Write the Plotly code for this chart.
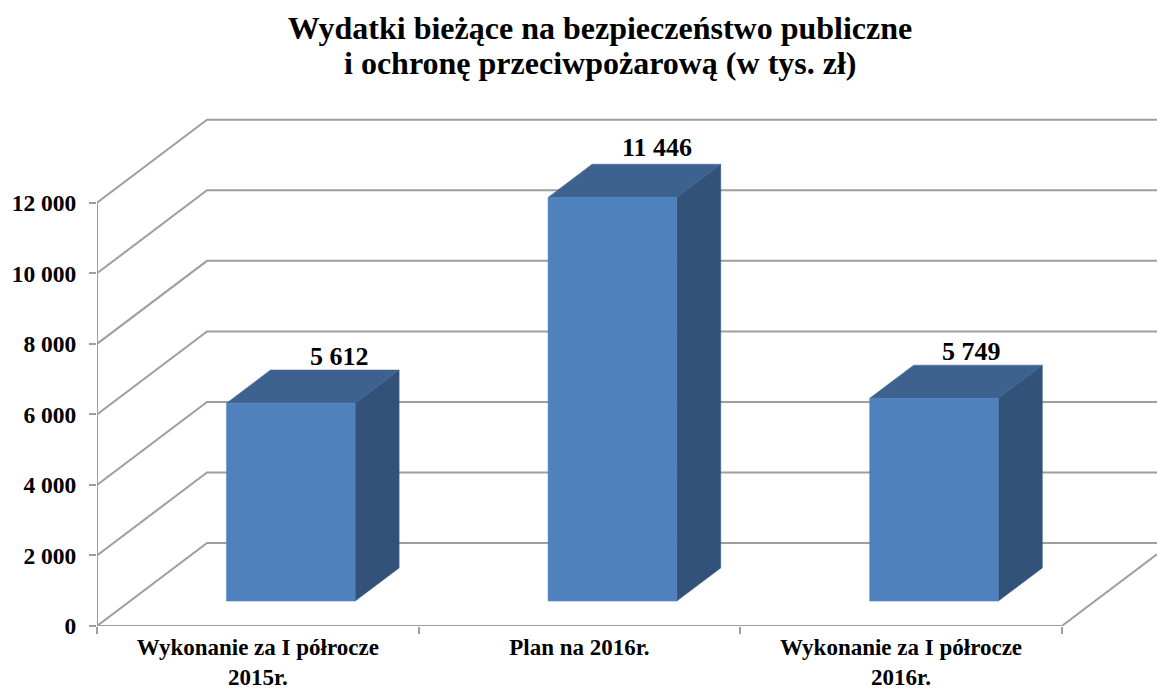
import plotly.graph_objects as go

# --- data ---
categories = ["Wykonanie za I półrocze<br>2015r.", "Plan na 2016r.", "Wykonanie za I półrocze<br>2016r."]
values = [5612, 11446, 5749]
value_labels = ["5 612", "11 446", "5 749"]
y_ticks = [0, 2000, 4000, 6000, 8000, 10000, 12000]
y_tick_labels = ["0", "2 000", "4 000", "6 000", "8 000", "10 000", "12 000"]
title_line_1 = "Wydatki bieżące na bezpieczeństwo publiczne"
title_line_2 = "i ochronę przeciwpożarową (w tys. zł)"

# --- styling / geometry of the pseudo-3D projection ---
W, H = 1157, 692
L, T, B = 97, 110, 66
PX_PER_CAT = 321.6
PX_PER_UNIT = 0.03527
DEPTH_X = 110 / PX_PER_CAT      # categories per unit of depth
DEPTH_Y = 83 / PX_PER_UNIT      # value units per unit of depth
BAR_WIDTH = 0.40
BAR_D0, BAR_D1 = 0.30, 0.70
GRID = "#9e9e9e"
FRONT, TOP, SIDE = "#4f81bd", "#3d6290", "#32527a"
SERIF = "Liberation Serif"
label_shift = [(49, 47), (45, 50), (37, 47)]


def proj(x, v, d):
    return x + d * DEPTH_X, v + d * DEPTH_Y


def line(points, width=2, color=GRID):
    pts = [proj(*p) for p in points]
    return go.Scatter(x=[p[0] for p in pts], y=[p[1] for p in pts], mode="lines",
                      line=dict(color=color, width=width), hoverinfo="skip",
                      showlegend=False, cliponaxis=False)


def poly(points, color):
    pts = [proj(*p) for p in points]
    return go.Scatter(x=[p[0] for p in pts], y=[p[1] for p in pts], mode="lines",
                      fill="toself", fillcolor=color, line=dict(color=color, width=0.5),
                      hoverinfo="skip", showlegend=False, cliponaxis=False)


fig = go.Figure()
n = len(categories)

# walls and floor
for v in y_ticks:
    fig.add_trace(line([(0, v, 0), (0, v, 1), (n, v, 1)]))
fig.add_trace(line([(n, 0, 1), (n, 0, 0), (0, 0, 0)]))
fig.add_trace(line([(0, 0, 0), (0, max(y_ticks), 0)]))

# boxes
annots = [dict(xref="paper", yref="paper", x=(600 - L) / (W - L), y=(H - B - 63) / (H - T - B),
               xanchor="center", yanchor="middle", showarrow=False, text=f"<b>{title_line_2}</b>",
               font=dict(family=SERIF, size=32, color="black"))]
for i, v in enumerate(values):
    x0 = i + 0.5 - BAR_WIDTH / 2
    x1 = i + 0.5 + BAR_WIDTH / 2
    fig.add_trace(poly([(x1, 0, BAR_D0), (x1, 0, BAR_D1), (x1, v, BAR_D1), (x1, v, BAR_D0), (x1, 0, BAR_D0)], SIDE))
    fig.add_trace(poly([(x0, v, BAR_D0), (x1, v, BAR_D0), (x1, v, BAR_D1), (x0, v, BAR_D1), (x0, v, BAR_D0)], TOP))
    fig.add_trace(poly([(x0, 0, BAR_D0), (x1, 0, BAR_D0), (x1, v, BAR_D0), (x0, v, BAR_D0), (x0, 0, BAR_D0)], FRONT))
    px, py = proj(i + 0.5, v, BAR_D0)
    annots.append(dict(x=px, y=py, text=f"<b>{value_labels[i]}</b>", showarrow=False,
                       xshift=label_shift[i][0], yshift=label_shift[i][1],
                       font=dict(family=SERIF, size=26, color="black")))

fig.update_layout(
    width=W, height=H, margin=dict(l=L, r=0, t=T, b=B, pad=0, autoexpand=False),
    paper_bgcolor="white", plot_bgcolor="white", showlegend=False,
    title=dict(text=f"<b>{title_line_1}</b>", x=600 / W, xanchor="center", xref="container",
               y=1 - 28 / H, yanchor="middle", yref="container",
               font=dict(family=SERIF, size=32, color="black")),
    annotations=annots,
    xaxis=dict(range=[0, (W - L) / PX_PER_CAT], tickmode="array", automargin=False,
               tickvals=[i + 0.5 for i in range(n)],
               ticktext=[f"<b>{c}</b>".replace("<br>", "</b><br><b>") for c in categories],
               ticks="", showgrid=False, zeroline=False, showline=False, ticklabelstandoff=5,
               minor=dict(tick0=0, dtick=1, ticks="outside", ticklen=7, tickwidth=2, tickcolor=GRID, showgrid=False),
               tickfont=dict(family=SERIF, size=23, color="black")),
    yaxis=dict(range=[0, (H - T - B) / PX_PER_UNIT], tickmode="array", tickvals=y_ticks, automargin=False,
               ticktext=[f"<b>{t}</b>" for t in y_tick_labels], ticks="outside", ticklen=7,
               tickwidth=2, tickcolor=GRID, showgrid=False, zeroline=False, showline=False,
               ticklabelstandoff=8, tickfont=dict(family=SERIF, size=23.5, color="black")),
)

fig.write_html("out.html", config=dict(displayModeBar=False),
               post_script="document.body.style.margin='0';")
